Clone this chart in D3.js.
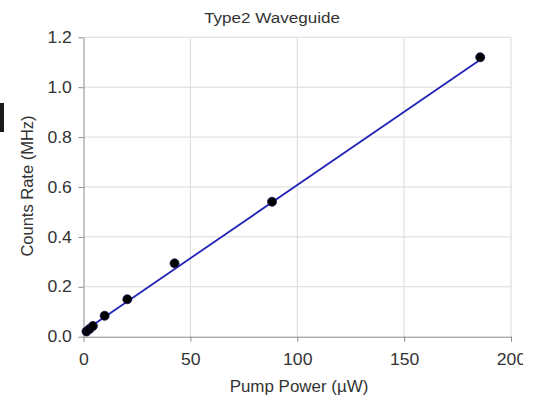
<!DOCTYPE html>
<html>
<head>
<meta charset="utf-8">
<script src="https://cdn.jsdelivr.net/npm/d3@7"></script>
<style>
  body { margin: 0; background: #fff; }
  svg { display: block; }
  text { font-family: "Liberation Sans", Arial, sans-serif; fill: #333; }
</style>
</head>
<body>
<svg></svg>
<script>
// measured points
let pumpPower = [1.4, 2.8, 4.4, 9.9, 20.5, 42.6, 88.2, 185.6]
let countsRate = [0.021, 0.031, 0.043, 0.084, 0.15, 0.294, 0.541, 1.12]

// linear fit line (end points)
let fitPower = [1.2, 185.6]
let fitCounts = [0.028, 1.11]

let xTicks = [0, 50, 100, 150, 200]
let xTickLabels = ['0', '50', '100', '150', '200']
let yTicks = [0, 0.2, 0.4, 0.6, 0.8, 1.0, 1.2]
let yTickLabels = ['0.0', '0.2', '0.4', '0.6', '0.8', '1.0', '1.2']

let width = 544
let height = 400
let stretch = 1.1

let svg = d3.select('svg')
  .attr('width', width)
  .attr('height', height)

svg.append('defs').append('clipPath').attr('id', 'page')
  .append('rect').attr('x', 0).attr('y', 0).attr('width', 523).attr('height', height)

let root = svg.append('g').attr('clip-path', 'url(#page)')

let xScale = d3.scaleLinear().domain([0, 200]).range([83.5, 511])
let yScale = d3.scaleLinear().domain([0, 1.2]).range([336.7, 37.3])

// grid
root.append('g')
  .selectAll('line.vgrid')
  .data(xTicks.slice(1))
  .enter()
  .append('line')
  .attr('x1', d => xScale(d)).attr('x2', d => xScale(d))
  .attr('y1', yScale(1.2)).attr('y2', yScale(0))
  .attr('stroke', '#dadada').attr('stroke-width', 1)

root.append('g')
  .selectAll('line.hgrid')
  .data(yTicks.slice(1))
  .enter()
  .append('line')
  .attr('x1', xScale(0)).attr('x2', xScale(200))
  .attr('y1', d => yScale(d)).attr('y2', d => yScale(d))
  .attr('stroke', '#dadada').attr('stroke-width', 1)

// axes
let xAxis = d3.axisBottom(xScale)
  .tickValues(xTicks)
  .tickFormat((d, i) => xTickLabels[i])
  .tickSize(5)
  .tickSizeOuter(0)

let yAxis = d3.axisLeft(yScale)
  .tickValues(yTicks)
  .tickFormat((d, i) => yTickLabels[i])
  .tickSize(5)
  .tickSizeOuter(0)

let gx = root.append('g')
  .attr('transform', 'translate(0,' + yScale(0) + ')')
  .call(xAxis)

let gy = root.append('g')
  .attr('transform', 'translate(' + xScale(0) + ',0)')
  .call(yAxis)

for (let g of [gx, gy]) {
  g.select('.domain').attr('stroke', '#8a8a8a')
  g.selectAll('.tick line').attr('stroke', '#8a8a8a')
  g.selectAll('.tick text')
    .attr('font-family', '"Liberation Sans", Arial, sans-serif')
    .attr('font-size', 16)
    .attr('fill', '#383838')
}
gx.selectAll('.tick text').attr('y', 17).attr('dy', '0.71em')
  .attr('transform', 'scale(' + stretch + ',1)')
gy.selectAll('.tick text').attr('x', -11.6 / stretch)
  .attr('transform', 'scale(' + stretch + ',1)')

// fit line
let line = d3.line()
  .x((d, i) => xScale(fitPower[i]))
  .y((d, i) => yScale(fitCounts[i]))

root.append('path')
  .datum(fitPower)
  .attr('d', line)
  .attr('fill', 'none')
  .attr('stroke', '#2323b8')
  .attr('stroke-width', 1.8)

// points
root.selectAll('circle')
  .data(pumpPower)
  .enter()
  .append('circle')
  .attr('cx', (d) => xScale(d))
  .attr('cy', (d, i) => yScale(countsRate[i]))
  .attr('r', 4.5)
  .attr('fill', '#000')
  .attr('stroke', '#10104a')
  .attr('stroke-width', 0.8)

// titles
root.append('text')
  .attr('transform', 'translate(272,23) scale(' + stretch + ',1)')
  .attr('text-anchor', 'middle')
  .attr('font-size', 15.5)
  .attr('fill', '#262626')
  .text('Type2 Waveguide')

root.append('text')
  .attr('transform', 'translate(299,392) scale(1.06,1)')
  .attr('text-anchor', 'middle')
  .attr('font-size', 16)
  .attr('fill', '#262626')
  .text('Pump Power (µW)')

root.append('text')
  .attr('transform', 'translate(33,186) rotate(-90)')
  .attr('text-anchor', 'middle')
  .attr('font-size', 16.5)
  .attr('fill', '#262626')
  .text('Counts Rate (MHz)')

// stray mark at left edge
root.append('rect')
  .attr('x', 0).attr('y', 103)
  .attr('width', 4).attr('height', 29)
  .attr('fill', '#1a1a1a')
</script>
</body>
</html>
